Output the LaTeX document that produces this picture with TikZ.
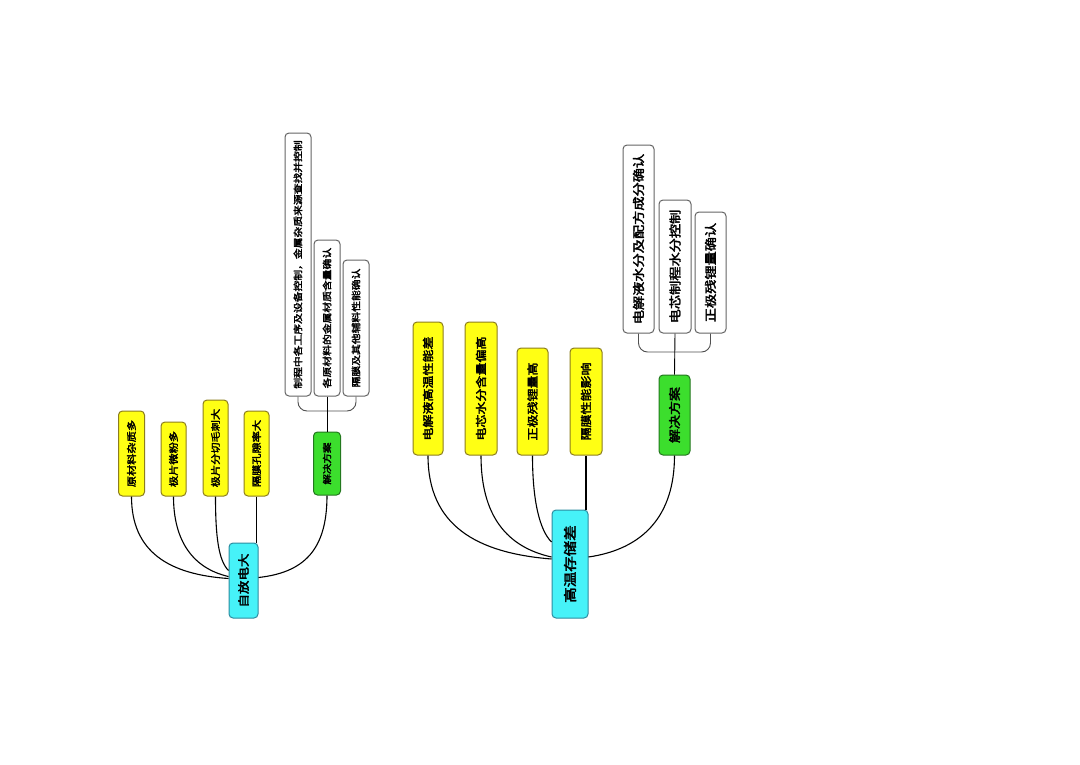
\documentclass[tikz,border=0pt]{standalone}
\usepackage{fontspec}
\usepackage{graphicx}
\setmainfont{Noto Sans CJK SC}[AutoFakeBold=2.6]
\usetikzlibrary{calc}
\definecolor{yelF}{RGB}{255,255,20}
\definecolor{yelD}{RGB}{140,125,30}
\definecolor{cynF}{RGB}{70,242,248}
\definecolor{cynD}{RGB}{45,140,160}
\definecolor{grnF}{RGB}{60,222,45}
\definecolor{grnD}{RGB}{35,120,30}
\definecolor{whtD}{RGB}{100,100,100}
\newcommand\vt[2]{\scalebox{0.85}[1]{\rotatebox{90}{\fontsize{#1}{#1}\selectfont\bfseries #2}}}
\tikzset{
  box/.style={rounded corners=4pt, line width=1pt, inner sep=0pt, align=center},
  yel/.style={box, fill=yelF, draw=yelD},
  cyn/.style={box, fill=cynF, draw=cynD},
  grn/.style={box, fill=grnF, draw=grnD},
  wht/.style={box, fill=white, draw=whtD},
  link/.style={line width=1.1pt, black},
  brk/.style={line width=0.9pt, whtD!80!black, rounded corners=9pt}
}
\begin{document}
\begin{tikzpicture}[x=1pt,y=-1pt]
\fill[white] (0,0) rectangle (1080,764);
\useasboundingbox (0,0) rectangle (1080,764);
% ---------- left group ----------
\node[cyn, minimum width=29pt, minimum height=75pt] (c1) at (243.5,580.5) {\vt{13.5}{自放电大}};
\node[yel, minimum width=26pt, minimum height=85pt] (y1) at (131.5,453.5) {\vt{11.2}{原材料杂质多}};
\node[yel, minimum width=25pt, minimum height=74pt] (y2) at (173.5,459) {\vt{11.2}{极片微粉多}};
\node[yel, minimum width=25pt, minimum height=96pt] (y3) at (215.5,448) {\vt{11.2}{极片分切毛刺大}};
\node[yel, minimum width=25pt, minimum height=85pt] (y4) at (256.5,453.5) {\vt{11.2}{隔膜孔隙率大}};
\node[grn, minimum width=27pt, minimum height=63pt] (g1) at (327,463.5) {\vt{10.5}{解决方案}};
\node[wht, minimum width=26pt, minimum height=263pt] (w1) at (298,264.5) {\vt{10.8}{制程中各工序及设备控制，金属杂质来源查找并控制}};
\node[wht, minimum width=26pt, minimum height=156pt] (w2) at (327,318) {\vt{10.8}{各原材料的金属材质含量确认}};
\node[wht, minimum width=26pt, minimum height=136pt] (w3) at (356,328) {\vt{10.8}{隔膜及其他辅料性能确认}};
\coordinate (b1) at (0,411);
\draw[brk] (w1.south) -- (w1.south |- b1) -- (w3.south |- b1) -- (w3.south);
\draw[link, line width=0.9pt] (w2.south) -- (g1.north);
\draw[link] (y1.south) .. controls +(0,55) and +(-60,-4) .. ($(c1.west)+(0,-2)$);
\draw[link] (y2.south) .. controls +(0,45) and +(-35,-8) .. ($(c1.west)+(0,-4)$);
\draw[link] (y3.south) .. controls +(0,40) and +(-10,-10) .. ($(c1.west)+(0,-10)$);
\draw[link] (y4.south) -- (y4.south |- c1.north);
\draw[link] ($(c1.east)+(0,-3)$) .. controls +(45,-5) and +(0,55) .. (g1.south);
% ---------- right group ----------
\node[cyn, minimum width=36pt, minimum height=108pt] (c2) at (570,564) {\vt{15.5}{高温存储差}};
\node[yel, minimum width=30pt, minimum height=133pt] (y5) at (428,388.5) {\vt{13}{电解液高温性能差}};
\node[yel, minimum width=32pt, minimum height=133pt] (y6) at (481,388.5) {\vt{13}{电芯水分含量偏高}};
\node[yel, minimum width=31pt, minimum height=107pt] (y7) at (532.5,401.5) {\vt{13}{正极残锂量高}};
\node[yel, minimum width=32pt, minimum height=107pt] (y8) at (586,401.5) {\vt{13}{隔膜性能影响}};
\node[grn, minimum width=31pt, minimum height=80pt] (g2) at (674.5,415) {\vt{14}{解决方案}};
\node[wht, minimum width=31pt, minimum height=188pt] (w4) at (638.5,239) {\vt{14.2}{电解液水分及配方成分确认}};
\node[wht, minimum width=32pt, minimum height=133pt] (w5) at (675,266.5) {\vt{14.2}{电芯制程水分控制}};
\node[wht, minimum width=31pt, minimum height=121pt] (w6) at (710.5,272.5) {\vt{14.2}{正极残锂量确认}};
\coordinate (b2) at (0,352);
\draw[brk] (w4.south) -- (w4.south |- b2) -- (w6.south |- b2) -- (w6.south);
\draw[link, line width=0.9pt] (w5.south) -- (g2.north);
\draw[link] (y5.south) .. controls +(0,70) and +(-75,-6) .. ($(c2.west)+(0,-5)$);
\draw[link] (y6.south) .. controls +(0,60) and +(-45,-10) .. ($(c2.west)+(0,-7)$);
\draw[link] (y7.south) .. controls +(0,45) and +(-12,-12) .. ($(c2.west)+(0,-22)$);
\draw[link] (y8.south) -- (y8.south |- c2.north);
\draw[link] ($(c2.east)+(0,-7)$) .. controls +(55,-8) and +(0,60) .. (g2.south);
\end{tikzpicture}
\end{document}
